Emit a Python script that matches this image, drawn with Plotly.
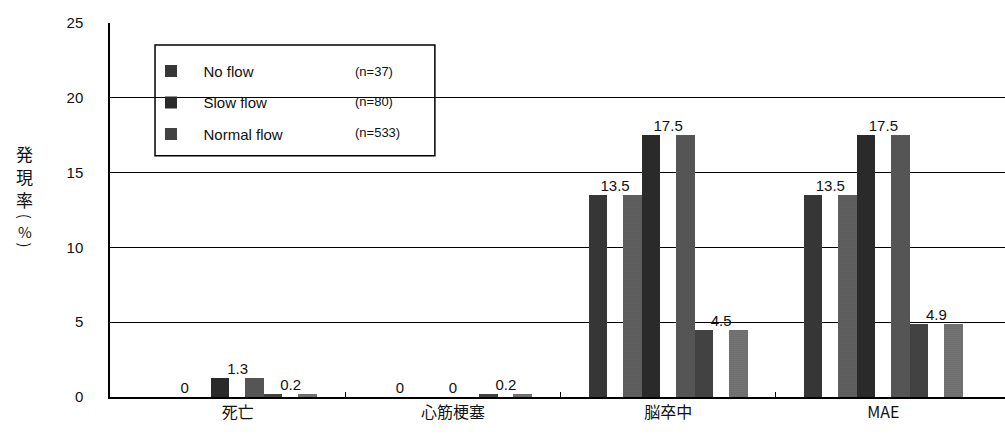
import plotly.graph_objects as go

# Event rates (%) by flow grade
categories = ["死亡", "心筋梗塞", "脳卒中", "MAE"]
series_names = ["No flow", "Slow flow", "Normal flow"]
series_n = ["(n=37)", "(n=80)", "(n=533)"]
no_flow = [0, 0, 13.5, 13.5]
slow_flow = [1.3, 0, 17.5, 17.5]
normal_flow = [0.2, 0.2, 4.5, 4.9]
y_ticks = [0, 5, 10, 15, 20, 25]

series_values = [no_flow, slow_flow, normal_flow]

# Each bar is drawn as a shaded cylinder: dark left face, pale highlight, mid-tone right face
dark_face = ["#424242", "#333333", "#505050"]
light_face = ["#666666", "#5c5c5c", "#7c7c7c"]

BAR_W = 0.2465           # width of one bar in category units
LEFT_W = 0.084           # width of the shaded left face
RIGHT_OFF = 0.158        # where the right face starts
RIGHT_W = BAR_W - RIGHT_OFF

x_idx = list(range(len(categories)))
font_num = "Arial, Liberation Sans, sans-serif"
font_jp = "Noto Sans CJK JP, sans-serif"
pad = "\u00a0\u00a0\u00a0"

fig = go.Figure()

for s, (name, vals) in enumerate(zip(series_names, series_values)):
    start = (s - 1) * BAR_W - BAR_W / 2
    fig.add_trace(go.Bar(
        x=x_idx, y=vals, name=pad + name, legendgroup=name, showlegend=True,
        offset=start, width=LEFT_W,
        marker=dict(color=dark_face[s], line=dict(width=0),
                    pattern=dict(shape=".", fgcolor="#000000", bgcolor=dark_face[s],
                                 size=2, solidity=0.35)),
        hoverinfo="skip",
    ))
    fig.add_trace(go.Bar(
        x=x_idx, y=vals, name=pad + name, legendgroup=name, showlegend=False,
        offset=start + RIGHT_OFF, width=RIGHT_W,
        marker=dict(color=light_face[s], line=dict(width=0),
                    pattern=dict(shape=".", fgcolor="#1a1a1a", bgcolor=light_face[s],
                                 size=2, solidity=0.3)),
        hoverinfo="skip",
    ))
    # value labels above each bar
    fig.add_trace(go.Scatter(
        x=[i + (s - 1) * BAR_W for i in x_idx], y=vals,
        mode="text", text=[f"{v:g}" for v in vals], textposition="top center",
        textfont=dict(family=font_num, size=15, color="#111111"),
        showlegend=False, hoverinfo="skip", cliponaxis=False,
    ))

# legend frame (white, hides grid lines beneath it)
fig.add_shape(type="rect", xref="paper", yref="paper",
              x0=0.0503, x1=0.363, y0=0.645, y1=0.941,
              fillcolor="white", line=dict(color="black", width=1.5), layer="between")

row_y = [0.869, 0.789, 0.706]
for n_txt, yy in zip(series_n, row_y):
    fig.add_annotation(text=n_txt, x=0.2715, y=yy, xref="paper", yref="paper",
                       xanchor="left", yanchor="middle", showarrow=False,
                       font=dict(family=font_num, size=13, color="#111111"))

# vertical y-axis title, one glyph per line; parentheses turned on their side
title_parts = [("発", 0.652, 0, 17), ("現", 0.590, 0, 17), ("率", 0.529, 0, 17),
               ("(", 0.482, 90, 15), ("%", 0.443, 0, 15), (")", 0.405, 90, 15)]
for ch, yy, ang, sz in title_parts:
    fig.add_annotation(text=ch, x=-0.095, y=yy, xref="paper", yref="paper",
                       xanchor="center", yanchor="middle", showarrow=False,
                       textangle=ang,
                       font=dict(family=font_jp, size=sz, color="#111111"))

fig.update_layout(
    width=1005, height=436,
    margin=dict(l=110, r=0, t=23, b=39),
    paper_bgcolor="white", plot_bgcolor="white",
    barmode="overlay", bargap=0,
    font=dict(family=font_num, color="#111111"),
    legend=dict(x=0.0458, y=0.915, xanchor="left", yanchor="top",
                bgcolor="rgba(0,0,0,0)", borderwidth=0,
                font=dict(family=font_num, size=15, color="#111111"),
                tracegroupgap=9, itemwidth=30),
    xaxis=dict(range=[-0.593, 3.565], tickvals=x_idx, ticktext=categories,
               showgrid=False, zeroline=False, showline=True, linecolor="black",
               linewidth=1.5, ticks="",
               tickfont=dict(family=font_jp, size=16, color="#111111"),
               minor=dict(tickvals=[0.5, 1.5, 2.5], ticks="inside", ticklen=5,
                          tickcolor="black", tickwidth=1)),
    yaxis=dict(range=[0, 25], tickvals=y_ticks, showgrid=True, gridcolor="black",
               gridwidth=1, zeroline=False, showline=True, linecolor="black",
               linewidth=1.5, ticks="", ticklabelstandoff=22,
               tickfont=dict(family=font_num, size=15, color="#111111")),
)

fig.write_html("out.html")
